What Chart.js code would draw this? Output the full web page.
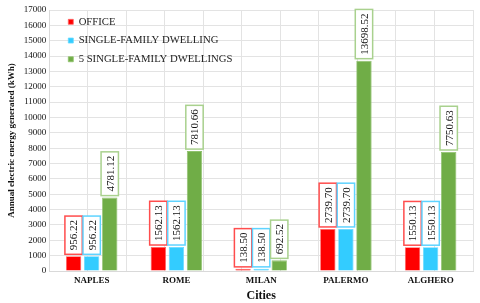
<!DOCTYPE html>
<html>
<head>
<meta charset="utf-8">
<script src="https://cdn.jsdelivr.net/npm/chart.js@4.4.1/dist/chart.umd.min.js"></script>
<style>
  html, body { margin: 0; padding: 0; background: #fff; }
  #wrap { width: 480px; height: 303px; }
</style>
</head>
<body>
<div id="wrap"><canvas id="chart"></canvas></div>
<script>
const cities = ['NAPLES', 'ROME', 'MILAN', 'PALERMO', 'ALGHERO'];
const office = [956.22, 1562.13, 138.50, 2739.70, 1550.13];
const singleDwelling = [956.22, 1562.13, 138.50, 2739.70, 1550.13];
const fiveDwellings = [4781.12, 7810.66, 692.52, 13698.52, 7750.63];
const seriesNames = ['OFFICE', 'SINGLE-FAMILY DWELLING', '5 SINGLE-FAMILY DWELLINGS'];
const barColors = ['#ff0000', '#33ccff', '#70ad47'];
const labelBorders = ['#ff4d4d', '#5fd3ff', '#a9d18e'];

const serif = "'Liberation Serif', 'Times New Roman', serif";

// boxed, rotated value labels above each bar
const valueLabels = {
    id: 'valueLabels',
    afterLayout(chart) {
        // nudge the legend into the upper-left of the plot like the original
        chart.legend.left += 11;
        chart.legend.top += 8.5;
    },
    afterDatasetsDraw(chart) {
        const ctx = chart.ctx;
        ctx.save();
        ctx.font = '11px ' + serif;
        chart.data.datasets.forEach((ds, i) => {
            const meta = chart.getDatasetMeta(i);
            meta.data.forEach((bar, j) => {
                const txt = ds.data[j].toFixed(2);
                const tw = ctx.measureText(txt).width;
                const h = tw + 8;
                const w = bar.width + 2;
                const bottom = bar.y - 2;
                const left = bar.x - w / 2;
                ctx.fillStyle = '#fff';
                ctx.fillRect(left, bottom - h, w, h);
                ctx.strokeStyle = labelBorders[i];
                ctx.lineWidth = 1.5;
                ctx.strokeRect(left, bottom - h, w, h);
                ctx.save();
                ctx.translate(bar.x + 1, bottom - h / 2);
                ctx.rotate(-Math.PI / 2);
                ctx.fillStyle = '#111';
                ctx.textAlign = 'center';
                ctx.textBaseline = 'middle';
                ctx.fillText(txt, 0, 0);
                ctx.restore();
            });
        });
        ctx.restore();
    }
};

document.addEventListener('DOMContentLoaded', () => {
    const ctx = document.getElementById('chart').getContext('2d');
    new Chart(ctx, {
        type: 'bar',
        data: {
            labels: cities,
            datasets: [
                { label: seriesNames[0], data: office, backgroundColor: barColors[0], borderColor: '#ff6666', borderWidth: 0.8 },
                { label: seriesNames[1], data: singleDwelling, backgroundColor: barColors[1], borderColor: '#66d9ff', borderWidth: 0.8 },
                { label: seriesNames[2], data: fiveDwellings, backgroundColor: barColors[2], borderColor: '#8fc16c', borderWidth: 0.8 }
            ]
        },
        options: {
            responsive: true,
            maintainAspectRatio: false,
            animation: false,
            categoryPercentage: 0.64,
            barPercentage: 0.85,
            layout: { padding: { top: 10, right: 7, left: 6, bottom: 0 } },
            plugins: {
                legend: {
                    position: 'chartArea',
                    align: 'start',
                    labels: {
                        boxWidth: 5,
                        boxHeight: 5,
                        padding: 8,
                        color: '#222',
                        font: { family: serif, size: 10.7 }
                    }
                },
                tooltip: { enabled: false }
            },
            scales: {
                x: {
                    grid: { display: false, drawTicks: false },
                    border: { color: '#d9d9d9' },
                    ticks: { color: '#111', font: { family: serif, size: 9, weight: 'bold', lineHeight: 1 }, padding: 5 },
                    title: { display: true, text: 'Cities', color: '#111', font: { family: serif, size: 12, weight: 'bold', lineHeight: 1 }, padding: { top: 0, bottom: 1 } }
                },
                g: {
                    type: 'linear',
                    position: 'top',
                    min: 0,
                    max: 10,
                    ticks: { display: false, stepSize: 1 },
                    grid: { color: '#e3e3e3', drawTicks: false },
                    border: { display: false }
                },
                y: {
                    min: 0,
                    max: 17000,
                    ticks: {
                        stepSize: 1000,
                        color: '#111',
                        font: { family: serif, size: 9 },
                        callback: (v) => String(v)
                    },
                    grid: { color: '#e3e3e3', drawTicks: false },
                    border: { color: '#d9d9d9' },
                    title: { display: true, text: 'Annual electric energy generated (kWh)', color: '#111', font: { family: serif, size: 9, weight: 'bold' }, padding: { top: 0, bottom: 4 } }
                }
            }
        },
        plugins: [valueLabels]
    });
});
</script>
</body>
</html>
